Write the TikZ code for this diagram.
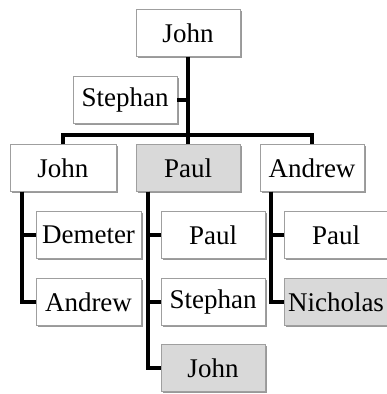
\documentclass[tikz,border=0pt]{standalone}
\usepackage{fontspec}
\setmainfont{Liberation Serif}
\usetikzlibrary{shadows}
\begin{document}
\begin{tikzpicture}[x=1pt, y=-1pt,
		box/.style={draw=gray!75, fill=white, minimum width=104pt, minimum height=47pt, inner sep=0pt,
			font=\fontsize{27}{32}\selectfont,
			drop shadow={shadow xshift=1.5pt, shadow yshift=-1.5pt, fill=gray!80, opacity=1}},
		shaded/.style={box, fill=gray!30},
		link/.style={line width=4pt, line join=miter}]
		\useasboundingbox (0, 0) rectangle (386, 394);
		\node[box] (john) at (188, 33) {John};
		\node[box] (stephan) at (125, 100) {Stephan};
		\node[box, minimum width=106pt] (john2) at (63, 168) {John};
		\node[shaded] (paul) at (188, 168) {Paul};
		\node[box] (andrew) at (312, 168) {Andrew};
		% children of john2
		\node[box, minimum width=105pt] (demeter) at (88.5, 235) {Demeter};
		\node[box, minimum width=105pt] (andrew2) at (88.5, 302) {Andrew};
		% children of paul
		\node[box] (paul2) at (213, 235) {Paul};
		\node[box] (stephan2) at (213, 302) {Stephan};
		\node[shaded] (john3) at (213, 368) {John};
		% children of andrew
		\node[box] (paul3) at (336, 235) {Paul};
		\node[shaded] (nicholas) at (336, 302) {Nicholas};
		\coordinate (split) at (188, 135);
		\draw[link] (john.south) -- (paul.north);
		\draw[link] (stephan.east) -- (stephan.east -| john.south);
		\draw[link] (john2.north) |- (split) -| (andrew.north);
		\draw[link] ([xshift=12pt]john2.south west) |- (demeter.west);
		\draw[link] ([xshift=12pt]john2.south west) |- (andrew2.west);
		\draw[link] ([xshift=12pt]paul.south west) |- (paul2.west);
		\draw[link] ([xshift=12pt]paul.south west) |- (stephan2.west);
		\draw[link] ([xshift=12pt]paul.south west) |- (john3.west);
		\draw[link] ([xshift=11pt]andrew.south west) |- (paul3.west);
		\draw[link] ([xshift=11pt]andrew.south west) |- (nicholas.west);
	\end{tikzpicture}
\end{document}
